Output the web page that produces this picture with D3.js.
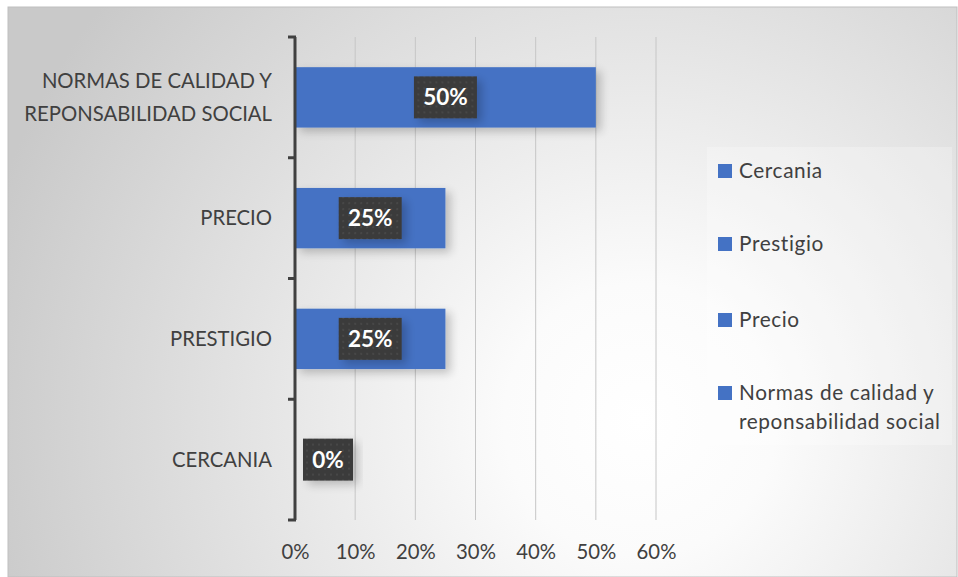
<!DOCTYPE html>
<html>
<head>
<meta charset="utf-8">
<script src="https://cdn.jsdelivr.net/npm/d3@7"></script>
<style>
  html, body { margin: 0; padding: 0; background: #ffffff; }
  svg { display: block; }
  text { font-family: Lato, "Open Sans", sans-serif; }
</style>
</head>
<body>
<svg id="chart" width="958" height="577"></svg>
<script>
// Factors and their share of responses
const categories = ["CERCANIA", "PRESTIGIO", "PRECIO", "NORMAS DE CALIDAD Y\nREPONSABILIDAD SOCIAL"];
const values = [0, 0.25, 0.25, 0.50];
const legendLabels = ["Cercania", "Prestigio", "Precio", "Normas de calidad y\nreponsabilidad social"];
const xTicks = [0, 0.1, 0.2, 0.3, 0.4, 0.5, 0.6];

const barColor = "#4472C4";
const textColor = "#404040";

const svg = d3.select("#chart");
const defs = svg.append("defs");

// Background gradient of the chart frame
const bg = defs.append("radialGradient").attr("id", "bgGrad")
  .attr("gradientUnits", "userSpaceOnUse")
  .attr("cx", 640).attr("cy", 420).attr("r", 680);
bg.append("stop").attr("offset", "0").attr("stop-color", "#ffffff");
bg.append("stop").attr("offset", "0.2").attr("stop-color", "#fbfbfb");
bg.append("stop").attr("offset", "1").attr("stop-color", "#c9c9c9");

// Soft drop shadow for bars and labels
const sh = defs.append("filter").attr("id", "shadow")
  .attr("x", "-20%").attr("y", "-40%").attr("width", "140%").attr("height", "180%");
sh.append("feGaussianBlur").attr("in", "SourceAlpha").attr("stdDeviation", 5).attr("result", "b");
sh.append("feOffset").attr("in", "b").attr("dx", 5).attr("dy", 4).attr("result", "o");
sh.append("feComponentTransfer").attr("in", "o").attr("result", "s")
  .append("feFuncA").attr("type", "linear").attr("slope", 0.22);
const m = sh.append("feMerge");
m.append("feMergeNode").attr("in", "s");
m.append("feMergeNode").attr("in", "SourceGraphic");

// Dotted texture for the value label boxes
const pat = defs.append("pattern").attr("id", "dots")
  .attr("patternUnits", "userSpaceOnUse").attr("width", 6).attr("height", 6);
pat.append("rect").attr("width", 6).attr("height", 6).attr("fill", "#3b3b3b");
pat.append("circle").attr("cx", 3).attr("cy", 3).attr("r", 0.8).attr("fill", "#555555");

// Frame
svg.append("rect").attr("x", 8).attr("y", 7).attr("width", 949).attr("height", 570)
  .attr("fill", "url(#bgGrad)").attr("stroke", "#bfbfbf").attr("stroke-width", 1);

// Plot geometry
const plot = { left: 295, right: 656, top: 37, bottom: 520 };

const x = d3.scaleLinear().domain([0, 0.6]).range([plot.left, plot.right]);
const y = d3.scaleBand().domain(categories.slice().reverse())
  .range([plot.top, plot.bottom]).paddingInner(0.5).paddingOuter(0.25);

// Vertical gridlines
svg.append("g").selectAll("line").data(xTicks.slice(1)).join("line")
  .attr("x1", d => x(d)).attr("x2", d => x(d))
  .attr("y1", plot.top).attr("y2", plot.bottom)
  .attr("stroke", "#c6c6c6").attr("stroke-width", 1);

// Bars
svg.append("g").selectAll("rect").data(categories).join("rect")
  .attr("x", x(0))
  .attr("y", d => y(d))
  .attr("width", (d, i) => x(values[i]) - x(0))
  .attr("height", y.bandwidth())
  .attr("fill", barColor)
  .attr("filter", (d, i) => values[i] > 0 ? "url(#shadow)" : null);

// Category axis (left) with outward ticks at band boundaries
const yAxisG = svg.append("g");
const boundaries = d3.range(categories.length + 1).map(i => plot.top + i * (plot.bottom - plot.top) / categories.length);
yAxisG.append("line")
  .attr("x1", plot.left).attr("x2", plot.left)
  .attr("y1", plot.top).attr("y2", plot.bottom)
  .attr("stroke", "#404040").attr("stroke-width", 3);
yAxisG.selectAll("line.tick").data(boundaries).join("line").attr("class", "tick")
  .attr("x1", plot.left - 7).attr("x2", plot.left + 1)
  .attr("y1", d => d).attr("y2", d => d)
  .attr("stroke", "#404040").attr("stroke-width", 3);

// Category labels
svg.append("g").selectAll("text").data(categories).join("text")
  .attr("text-anchor", "end")
  .attr("font-size", 20.3)
  .attr("fill", textColor)
  .attr("y", d => y(d) + y.bandwidth() / 2)
  .each(function(d) {
    const lines = d.split("\n");
    const t = d3.select(this);
    lines.forEach((ln, k) => {
      t.append("tspan").attr("x", 272)
        .attr("dy", k === 0 ? (-(lines.length - 1) * 16.5 + 7) : 33)
        .text(ln);
    });
  });

// X axis tick labels
const xAxis = d3.axisBottom(x).tickValues(xTicks).tickFormat(d3.format(".0%")).tickSize(0).tickPadding(0);
const xAxisG = svg.append("g").attr("transform", `translate(0, 559)`).call(xAxis);
xAxisG.select(".domain").remove();
xAxisG.selectAll("text").attr("font-size", 20.3).attr("fill", textColor)
  .attr("font-family", "Lato, 'Open Sans', sans-serif").attr("dy", 0);

// Value labels in dark boxes
const fmt = d3.format(".0%");
const lab = svg.append("g").selectAll("g").data(categories).join("g")
  .attr("transform", (d, i) => {
    const cx = values[i] > 0 ? (x(0) + x(values[i])) / 2 : x(0) + 33;
    return `translate(${cx}, ${y(d) + y.bandwidth() / 2})`;
  });
lab.append("rect")
  .attr("x", (d, i) => values[i] > 0 ? -31.5 : -25)
  .attr("y", -21)
  .attr("width", (d, i) => values[i] > 0 ? 63 : 50)
  .attr("height", 42)
  .attr("fill", "url(#dots)")
  .attr("filter", "url(#shadow)");
lab.append("text")
  .attr("text-anchor", "middle")
  .attr("dy", 8)
  .attr("font-size", 22.5)
  .attr("font-weight", "bold")
  .attr("fill", "#ffffff")
  .text((d, i) => fmt(values[i]));

// Legend
const leg = svg.append("g");
leg.append("rect").attr("x", 707).attr("y", 147).attr("width", 245).attr("height", 298)
  .attr("fill", "#ffffff").attr("opacity", 0.25);
const legY = [171, 244, 320, 393];
const legItems = leg.selectAll("g").data(legendLabels).join("g")
  .attr("transform", (d, i) => `translate(718, ${legY[i]})`);
legItems.append("rect").attr("x", 0).attr("y", -7).attr("width", 14).attr("height", 14)
  .attr("fill", barColor);
legItems.append("text")
  .attr("font-size", 20.8).attr("fill", textColor)
  .attr("letter-spacing", 0.6)
  .each(function(d) {
    const t = d3.select(this);
    d.split("\n").forEach((ln, k) => {
      t.append("tspan").attr("x", 21).attr("dy", k === 0 ? 7 : 29).text(ln);
    });
  });
</script>
</body>
</html>
